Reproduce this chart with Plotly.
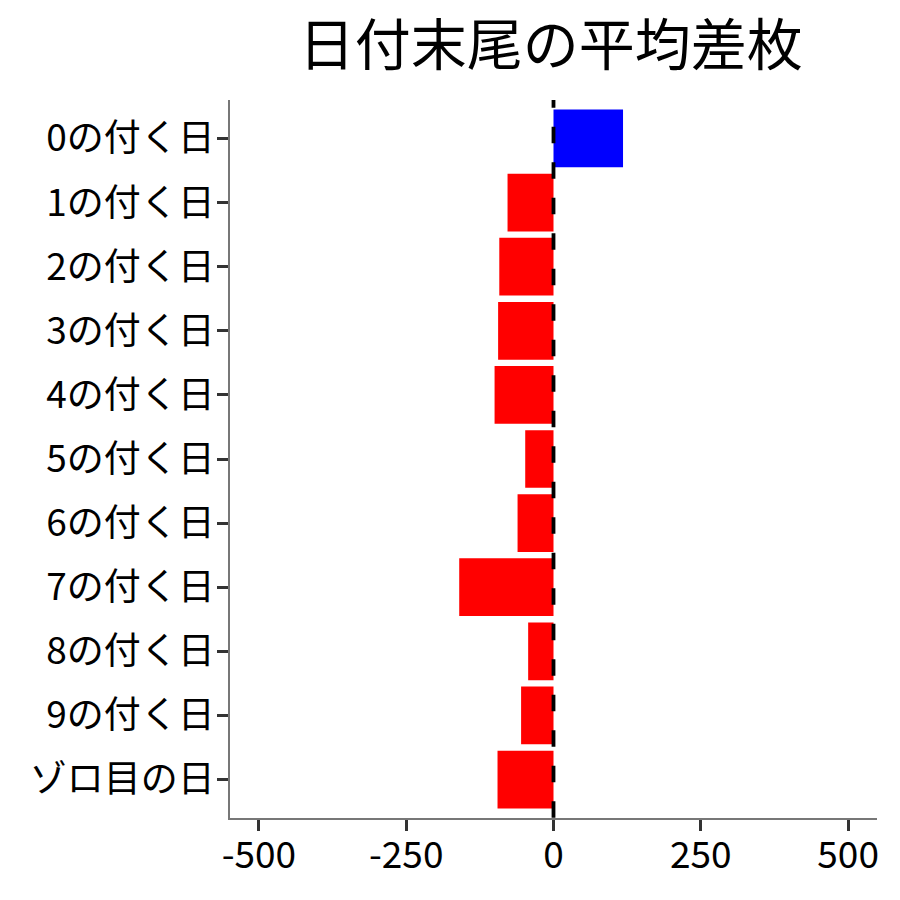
import plotly.graph_objects as go

categories = ["0の付く日", "1の付く日", "2の付く日", "3の付く日", "4の付く日",
              "5の付く日", "6の付く日", "7の付く日", "8の付く日", "9の付く日", "ゾロ目の日"]
values = [118, -78, -92, -94, -100, -48, -61, -160, -43, -55, -95]
colors = ["blue" if v > 0 else "red" for v in values]
x_ticks = [-500, -250, 0, 250, 500]

font = "Noto Sans CJK JP"

fig = go.Figure()
fig.add_trace(go.Bar(
    x=values, y=categories, orientation="h",
    marker=dict(color=colors, line=dict(width=0)),
    width=0.9, showlegend=False,
))
# vertical dashed reference line at 0 (drawn from the top, clipped to plot area)
fig.add_shape(type="line", xref="x", yref="y", x0=0, x1=0, y0=-0.737, y1=11.2,
              line=dict(color="black", width=3.8, dash="16.5px,19px"))

fig.update_layout(
    width=900, height=900,
    paper_bgcolor="white", plot_bgcolor="white",
    margin=dict(l=222, r=31, t=92, b=90),
    font=dict(family=font, color="black", size=37),
    title=dict(text="日付末尾の平均差枚", x=0.603, xanchor="center",
               y=0.959, yanchor="middle", font=dict(size=56, family=font, color="black")),
    bargap=0.1,
)
fig.update_xaxes(
    range=[-549, 549], tickvals=x_ticks, ticktext=[str(v) for v in x_ticks],
    showgrid=False, zeroline=False, showline=True, linecolor="#777", linewidth=1.5,
    ticks="outside", ticklen=11, tickwidth=2.5, tickcolor="#333", automargin=False,
    tickfont=dict(size=37, family=font, color="black"), ticklabelstandoff=-7,
)
fig.update_yaxes(
    categoryorder="array", categoryarray=categories, autorange=False,
    range=[10.6, -0.6], automargin=False,
    showgrid=False, zeroline=False, showline=True, linecolor="#777", linewidth=1.5,
    ticks="outside", ticklen=11, tickwidth=2.5, tickcolor="#333",
    tickfont=dict(size=37, family=font, color="black"), ticklabelstandoff=-5,
)

fig.write_html("out.html")
